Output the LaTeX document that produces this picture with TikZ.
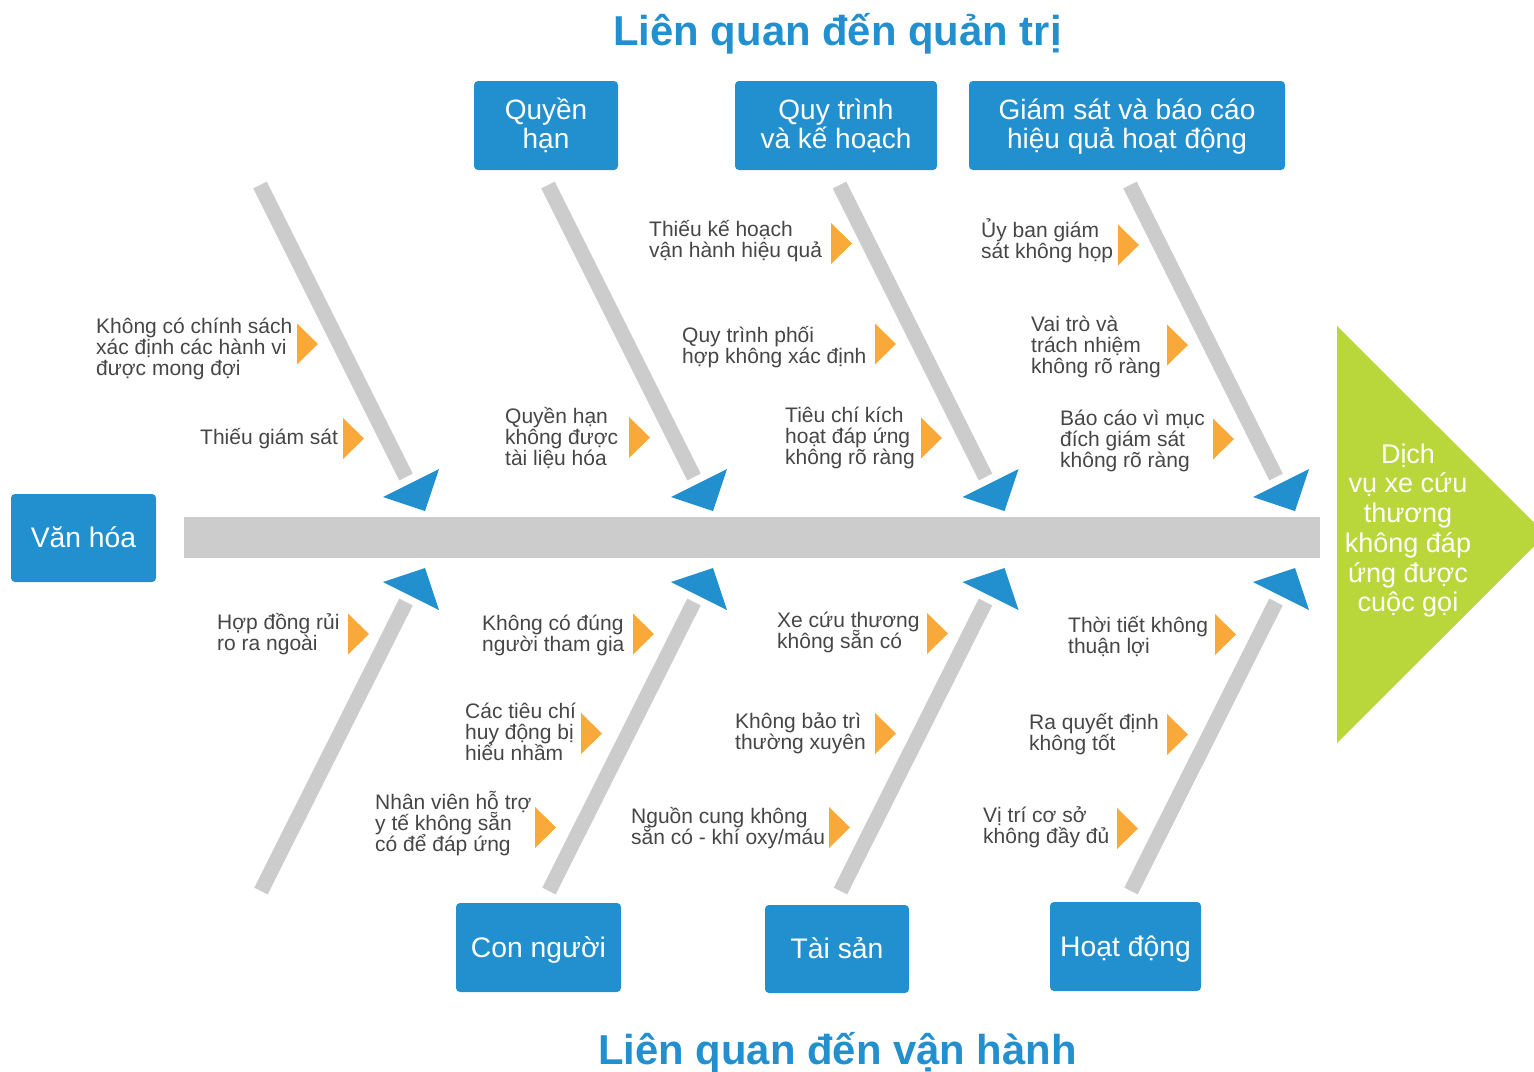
\documentclass[tikz,border=0pt]{standalone}
\usepackage{fontspec}
\setmainfont{Liberation Sans}
\definecolor{fbblue}{RGB}{34,144,207}
\definecolor{fbgray}{RGB}{204,204,204}
\definecolor{fborange}{RGB}{249,168,58}
\definecolor{fbgreen}{RGB}{185,214,58}
\definecolor{fbtext}{RGB}{70,70,70}
\newcommand\LblFont{\fontsize{21}{21}\selectfont\lineskiplimit=-100pt\relax}
\newcommand\BoxFontTwo{\fontsize{28}{28.5}\selectfont\lineskiplimit=-100pt\relax}
\newcommand\BoxFontOne{\fontsize{28.3}{30}\selectfont}
\newcommand\GoalFont{\fontsize{27}{29.7}\selectfont\lineskiplimit=-100pt\relax}
\newcommand\TitleFont{\fontsize{41.8}{48}\selectfont\bfseries}
\newcommand\Tl{\rule{0pt}{25pt}}
\newcommand\Hs{\rule{0pt}{30pt}}
\newcommand\Ds{\rule[-13pt]{0pt}{13pt}}
\newcommand\Ss{\rule[-11pt]{0pt}{41pt}}
\newcommand\otri[2]{\fill[fborange] (#1,#2) ++(0,-20.5) -- ++(21,20.5) -- ++(-21,20.5) -- cycle;}
\begin{document}
\begin{tikzpicture}[x=1pt,y=-1pt,
  bone/.style={draw=fbgray, line width=15pt},
  lbl/.style={anchor=north west, inner sep=0pt, align=left, text=fbtext, font=\LblFont},
  cat/.style={fill=fbblue, rounded corners=4pt, text=white, align=center, inner sep=0pt},
  title/.style={anchor=base, inner sep=0pt, text=fbblue, font=\TitleFont}]
\clip (0,0) rectangle (1534,1071);
\fill[white] (0,0) rectangle (1534,1071);

% bones
\foreach \s [count=\i] in {260,548,839.5,1130}{
  \coordinate (tA\i) at (\s,185);
  \coordinate (tB\i) at (\s+146,477);
  \coordinate (bA\i) at (\s+1,891);
  \coordinate (bB\i) at (\s+146,602);
  \draw[bone] (tA\i) -- (tB\i);
  \draw[bone] (bA\i) -- (bB\i);
  \fill[fbblue] ([shift={(-23,20)}]tB\i) -- ([shift={(33,-8)}]tB\i) -- ([shift={(19,34)}]tB\i) -- cycle;
  \fill[fbblue] ([shift={(-23,-20)}]bB\i) -- ([shift={(19,-34)}]bB\i) -- ([shift={(33,8)}]bB\i) -- cycle;
}

% spine
\coordinate (spL) at (184,517);
\coordinate (spR) at (1320,558);
\fill[fbgray] (spL) rectangle (spR);

% head
\fill[fbgreen] (1337,326) -- (1546,534.5) -- (1337,743) -- cycle;
\node[anchor=north, inner sep=0pt, align=center, text=white, font=\GoalFont] (goal) at (1408,435)
  {\rule{0pt}{28pt}Dịch\\vụ xe cứu\\thương\\không đáp\\ứng được\\cuộc gọi};

% titles
\node[title] (ttop) at (837.5,45) {Liên quan đến quản trị};
\node[title] (tbot) at (837.5,1064) {Liên quan đến vận hành};

% category boxes
\node[cat, minimum width=145pt, minimum height=88pt, font=\BoxFontOne] (vanhoa) at (83.5,538) {\Ss Văn hóa};
\node[cat, minimum width=144pt, minimum height=89pt, font=\BoxFontTwo] (quyenhan) at (546,125.5) {\Hs Quyền\\hạn\Ds};
\node[cat, minimum width=202pt, minimum height=89pt, font=\BoxFontTwo] (quytrinh) at (836,125.5) {\Hs Quy trình\\và kế hoạch\Ds};
\node[cat, minimum width=316pt, minimum height=89pt, font=\BoxFontTwo] (giamsat) at (1127,125.5) {\Hs Giám sát và báo cáo\\hiệu quả hoạt động\Ds};
\node[cat, minimum width=165pt, minimum height=89pt, font=\BoxFontOne] (connguoi) at (538.5,947.5) {\Ss Con người};
\node[cat, minimum width=144pt, minimum height=88pt, font=\BoxFontOne] (taisan) at (837,949) {\Ss Tài sản};
\node[cat, minimum width=151pt, minimum height=89pt, font=\BoxFontOne] (hoatdong) at (1125.5,946.5) {\Ss Hoạt động};

% orange markers
\otri{297}{344}
\otri{343}{438.5}
\otri{629}{437.5}
\otri{831}{243.5}
\otri{875}{344}
\otri{921}{438}
\otri{1118}{245}
\otri{1167}{345}
\otri{1213}{439}
\otri{348}{634}
\otri{633}{634}
\otri{581}{733.5}
\otri{535}{827.5}
\otri{927}{633.5}
\otri{875}{733.5}
\otri{829}{827.5}
\otri{1215}{634.5}
\otri{1167}{734.5}
\otri{1117}{828.5}

% cause labels
\node[lbl] (c1) at (96,308) {\Tl Không có chính sách\\xác định các hành vi\\được mong đợi};
\node[lbl] (c2) at (200,419) {\Tl Thiếu giám sát};
\node[lbl] (c3) at (505,398) {\Tl Quyền hạn\\không được\\tài liệu hóa};
\node[lbl] (c4) at (649,211) {\Tl Thiếu kế hoạch\\vận hành hiệu quả};
\node[lbl] (c5) at (682,317) {\Tl Quy trình phối\\hợp không xác định};
\node[lbl] (c6) at (785,397) {\Tl Tiêu chí kích\\hoạt đáp ứng\\không rõ ràng};
\node[lbl] (c7) at (981,212) {\Tl Ủy ban giám\\sát không họp};
\node[lbl] (c8) at (1031,306) {\Tl Vai trò và\\trách nhiệm\\không rõ ràng};
\node[lbl] (c9) at (1060,400) {\Tl Báo cáo vì mục\\đích giám sát\\không rõ ràng};
\node[lbl] (c10) at (217,604) {\Tl Hợp đồng rủi\\ro ra ngoài};
\node[lbl] (c11) at (482,605) {\Tl Không có đúng\\người tham gia};
\node[lbl] (c12) at (465,693) {\Tl Các tiêu chí\\huy động bị\\hiểu nhầm};
\node[lbl] (c13) at (375,784) {\Tl Nhân viên hỗ trợ\\y tế không sẵn\\có để đáp ứng};
\node[lbl] (c14) at (777,602) {\Tl Xe cứu thương\\không sẵn có};
\node[lbl] (c15) at (735,703) {\Tl Không bảo trì\\thường xuyên};
\node[lbl] (c16) at (631,798) {\Tl Nguồn cung không\\sẵn có - khí oxy/máu};
\node[lbl] (c17) at (1068,607) {\Tl Thời tiết không\\thuận lợi};
\node[lbl] (c18) at (1029,704) {\Tl Ra quyết định\\không tốt};
\node[lbl] (c19) at (983,797) {\Tl Vị trí cơ sở\\không đầy đủ};
\end{tikzpicture}
\end{document}
